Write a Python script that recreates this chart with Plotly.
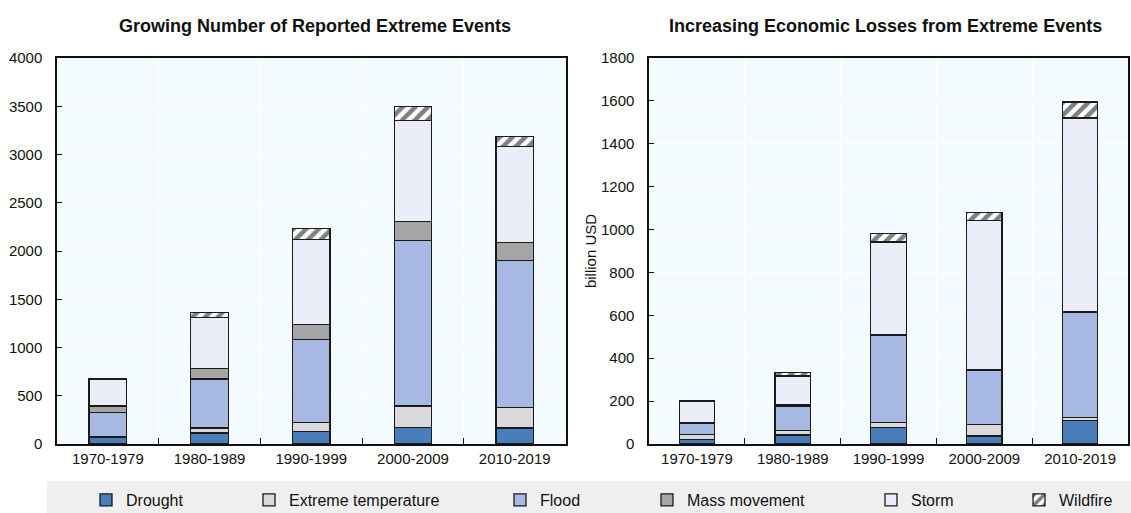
import plotly.graph_objects as go
from plotly.subplots import make_subplots

periods = ["1970-1979", "1980-1989", "1990-1999", "2000-2009", "2010-2019"]
series_names = ["Drought", "Extreme temperature", "Flood", "Mass movement", "Storm", "Wildfire"]

# Number of reported extreme events
events_drought = [70, 115, 130, 170, 165]
events_ext_temp = [10, 50, 95, 225, 215]
events_flood = [250, 510, 860, 1715, 1520]
events_mass = [65, 105, 155, 195, 190]
events_storm = [270, 530, 880, 1045, 990]
events_wildfire = [15, 55, 110, 150, 105]

# Economic losses, billion USD
loss_drought = [22, 42, 78, 38, 110]
loss_ext_temp = [22, 20, 22, 52, 12]
loss_flood = [52, 115, 405, 253, 490]
loss_mass = [3, 5, 7, 5, 5]
loss_storm = [100, 135, 430, 695, 903]
loss_wildfire = [2, 15, 40, 36, 75]

colors = ["#4A7EBB", "#D9D9D9", "#A7B9E3", "#A5A5A5", "#EBEEF8", "#FFFFFF"]

events = [events_drought, events_ext_temp, events_flood, events_mass, events_storm, events_wildfire]
losses = [loss_drought, loss_ext_temp, loss_flood, loss_mass, loss_storm, loss_wildfire]

FONT = "Liberation Sans, Arial, sans-serif"
ML, MR, MT, MB = 57, 3, 58, 69
W, H = 1131, 513
PW, PH = W - ML - MR, H - MT - MB


def px_x(p):
    return (p - ML) / PW


def px_y(p):
    return (H - MB - p) / PH


fig = make_subplots(rows=1, cols=2, horizontal_spacing=0.078,
                    column_widths=[0.515, 0.485])

legend_text_px = [126, 289, 540, 687, 911, 1059]
legend_keys = ["legend", "legend2", "legend3", "legend4", "legend5", "legend6"]

for i, name in enumerate(series_names):
    pattern = dict(shape="/", fgcolor="black", bgcolor="white", size=9, solidity=0.5) if name == "Wildfire" else None
    fig.add_trace(go.Bar(
        x=periods, y=events[i], name=name, width=0.37,
        marker=dict(color=colors[i], line=dict(color="#1a1a1a", width=1.3),
                    pattern=pattern),
        legend=legend_keys[i], showlegend=True,
    ), row=1, col=1)
    fig.add_trace(go.Bar(
        x=periods, y=losses[i], name=name, width=0.37,
        marker=dict(color=colors[i], line=dict(color="#1a1a1a", width=1.3),
                    pattern=pattern),
        legend=legend_keys[i], showlegend=False,
    ), row=1, col=2)

legend_layouts = {}
for i, key in enumerate(legend_keys):
    legend_layouts[key] = dict(
        x=px_x(legend_text_px[i] - 40), xanchor="left",
        y=px_y(500), yanchor="middle",
        orientation="h", bgcolor="rgba(0,0,0,0)",
        font=dict(family=FONT, size=16, color="#111"),
    )
fig.update_layout(**legend_layouts)

fig.update_layout(
    barmode="stack",
    width=W, height=H,
    margin=dict(l=ML, r=MR, t=MT, b=MB, autoexpand=False),
    paper_bgcolor="white",
    plot_bgcolor="#F3FBFF",
    font=dict(family=FONT, size=15, color="#111"),
    shapes=[dict(type="rect", xref="paper", yref="paper",
                 x0=px_x(47), x1=px_x(1131), y0=px_y(513), y1=px_y(481),
                 fillcolor="#EFEFEF", line=dict(width=0), layer="below")],
)

fig.update_layout(annotations=[
    dict(text="<b>Growing Number of Reported Extreme Events</b>", xref="paper", yref="paper",
         x=px_x(315), y=px_y(26), xanchor="center", yanchor="middle", showarrow=False,
         font=dict(family=FONT, size=18, color="#111")),
    dict(text="<b>Increasing Economic Losses from Extreme Events</b>", xref="paper", yref="paper",
         x=px_x(885), y=px_y(26), xanchor="center", yanchor="middle", showarrow=False,
         font=dict(family=FONT, size=18, color="#111")),
])

axis_common = dict(showline=True, linecolor="#111", linewidth=1.5, mirror=True)
fig.update_xaxes(type="category", ticks="inside", tickson="boundaries", ticklen=6,
                 tickcolor="#111", showgrid=True, gridcolor="white", gridwidth=1,
                 tickfont=dict(size=15), **axis_common)
fig.update_yaxes(ticks="inside", ticklen=5, tickcolor="#111", showgrid=True,
                 gridcolor="white", zeroline=False, tickfont=dict(size=15),
                 ticklabelstandoff=10, **axis_common)
fig.update_yaxes(range=[0, 4000], dtick=500, row=1, col=1)
fig.update_yaxes(range=[0, 1800], dtick=200, row=1, col=2,
                 title=dict(text="billion USD", font=dict(size=15), standoff=1))

fig.write_html("out.html", config={"displayModeBar": False},
               post_script="document.body.style.margin='0px';document.body.style.overflow='hidden';")
